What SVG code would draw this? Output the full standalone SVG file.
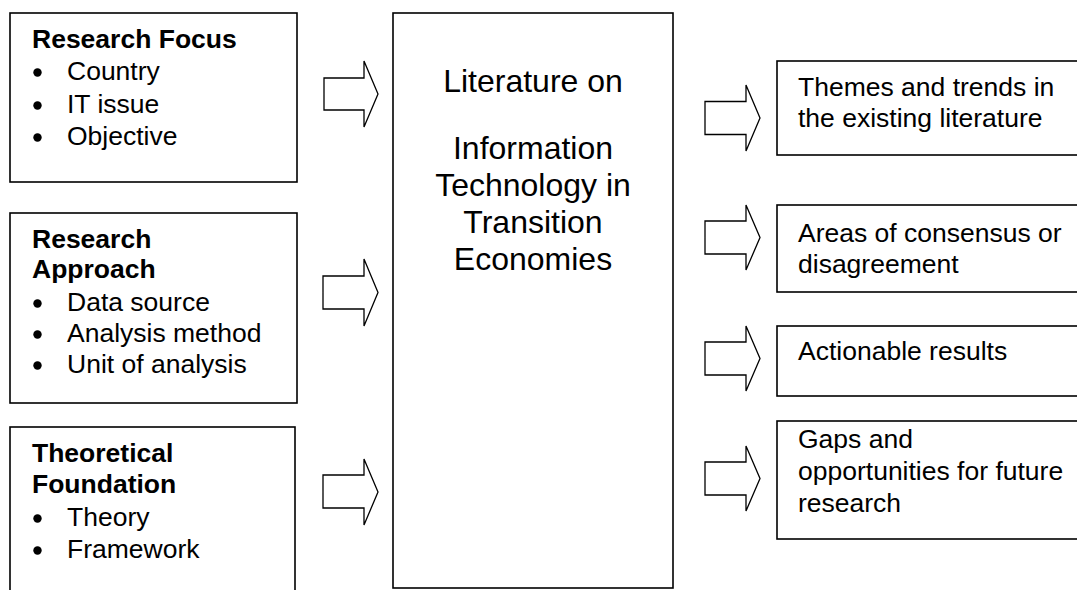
<svg xmlns="http://www.w3.org/2000/svg" width="1077" height="590" viewBox="0 0 1077 590">
  <style>
    .box { fill: #ffffff; stroke: #000000; stroke-width: 1.6; }
    .arrow { fill: #ffffff; stroke: #000000; stroke-width: 1.3; stroke-linejoin: miter; }
    .head { font-family: "Liberation Sans", Arial, sans-serif; font-size: 26.5px; font-weight: bold; fill: #000000; }
    .item { font-family: "Liberation Sans", Arial, sans-serif; font-size: 26.5px; fill: #000000; }
    .main { font-family: "Liberation Sans", Arial, sans-serif; font-size: 32px; fill: #000000; text-anchor: middle; }
    .dot { fill: #000000; }
  </style>
  <rect x="0" y="0" width="1077" height="590" fill="#ffffff"/>

  <!-- Input boxes -->
  <g id="research-focus">
    <rect class="box" x="10" y="13" width="287" height="169"/>
    <text class="head" x="32" y="48">Research Focus</text>
    <circle class="dot" cx="37.5" cy="72.5" r="4.2"/>
    <text class="item" x="67" y="80">Country</text>
    <circle class="dot" cx="37.5" cy="105.5" r="4.2"/>
    <text class="item" x="67" y="113">IT issue</text>
    <circle class="dot" cx="37.5" cy="137.5" r="4.2"/>
    <text class="item" x="67" y="145">Objective</text>
  </g>

  <g id="research-approach">
    <rect class="box" x="10" y="213" width="287" height="190"/>
    <text class="head" x="32" y="248">Research</text>
    <text class="head" x="32" y="278">Approach</text>
    <circle class="dot" cx="37.5" cy="303.5" r="4.2"/>
    <text class="item" x="67" y="311">Data source</text>
    <circle class="dot" cx="37.5" cy="334.5" r="4.2"/>
    <text class="item" x="67" y="342">Analysis method</text>
    <circle class="dot" cx="37.5" cy="365.5" r="4.2"/>
    <text class="item" x="67" y="373">Unit of analysis</text>
  </g>

  <g id="theoretical-foundation">
    <rect class="box" x="10" y="427" width="285" height="180"/>
    <text class="head" x="32" y="462">Theoretical</text>
    <text class="head" x="32" y="493">Foundation</text>
    <circle class="dot" cx="37.5" cy="518.5" r="4.2"/>
    <text class="item" x="67" y="526">Theory</text>
    <circle class="dot" cx="37.5" cy="550.5" r="4.2"/>
    <text class="item" x="67" y="558">Framework</text>
  </g>

  <!-- Central box -->
  <g id="literature">
    <rect class="box" x="393" y="13" width="280" height="575"/>
    <text class="main" x="533" y="92">Literature on</text>
    <text class="main" x="533" y="159">Information</text>
    <text class="main" x="533" y="196">Technology in</text>
    <text class="main" x="533" y="233">Transition</text>
    <text class="main" x="533" y="270">Economies</text>
  </g>

  <!-- Output boxes -->
  <g id="themes">
    <rect class="box" x="777" y="61" width="310" height="94"/>
    <text class="item" x="798" y="96">Themes and trends in</text>
    <text class="item" x="798" y="127">the existing literature</text>
  </g>

  <g id="consensus">
    <rect class="box" x="777" y="205" width="310" height="87"/>
    <text class="item" x="798" y="242">Areas of consensus or</text>
    <text class="item" x="798" y="273">disagreement</text>
  </g>

  <g id="actionable">
    <rect class="box" x="777" y="326" width="310" height="70"/>
    <text class="item" x="798" y="360">Actionable results</text>
  </g>

  <g id="gaps">
    <rect class="box" x="777" y="421" width="310" height="118"/>
    <text class="item" x="798" y="448">Gaps and</text>
    <text class="item" x="798" y="480">opportunities for future</text>
    <text class="item" x="798" y="512">research</text>
  </g>

  <!-- Block arrows -->
  <g id="connectors">
    <polygon class="arrow" points="324,78 364,78 364,61 378,94 364,127 364,110 324,110"/>
    <polygon class="arrow" points="323,276 364,276 364,259 378,292.5 364,326 364,309 323,309"/>
    <polygon class="arrow" points="323,475 364,475 364,459 378,492 364,525 364,508 323,508"/>
    <polygon class="arrow" points="705,101.5 746,101.5 746,85 760,118 746,151 746,134.5 705,134.5"/>
    <polygon class="arrow" points="705,221 746,221 746,205 760,237.5 746,270 746,254 705,254"/>
    <polygon class="arrow" points="705,342 746,342 746,326 760,358.5 746,391 746,375 705,375"/>
    <polygon class="arrow" points="705,462 746,462 746,446 760,478.5 746,511 746,495 705,495"/>
  </g>
</svg>
